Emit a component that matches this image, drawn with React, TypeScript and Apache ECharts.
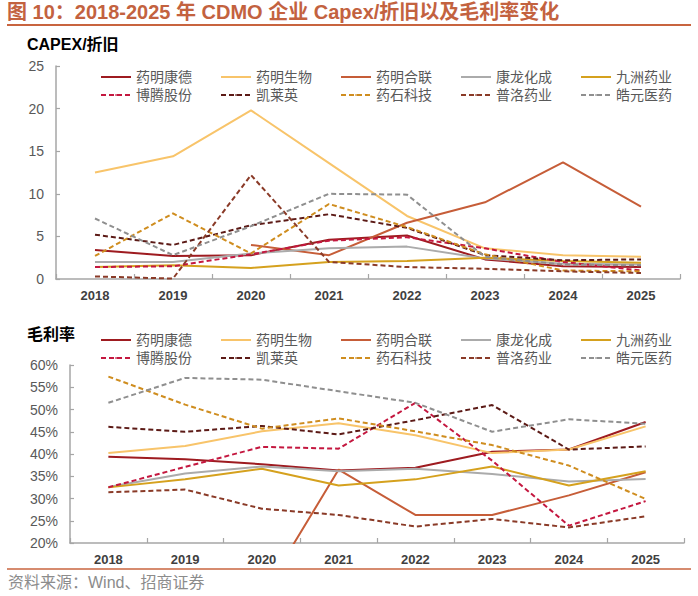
import React, { useEffect, useRef } from "react";
import * as echarts from "echarts";

const years = ["2018", "2019", "2020", "2021", "2022", "2023", "2024", "2025"];
const companies = ["药明康德", "药明生物", "药明合联", "康龙化成", "九洲药业", "博腾股份", "凯莱英", "药石科技", "普洛药业", "皓元医药"];

// CAPEX / 折旧
const capexWuxiAppTec = [3.4, 2.7, 2.8, 4.6, 5.1, 2.3, 1.5, 1.4];
const capexWuxiBio = [12.5, 14.4, 19.8, 13.6, 7.4, 3.6, 2.8, 2.6];
const capexWuxiXdc = [null, null, 4.0, 2.8, 6.6, 9.0, 13.7, 8.5];
const capexPharmaron = [2.0, 2.0, 3.0, 3.6, 3.8, 2.4, 1.8, 1.7];
const capexJiuzhou = [1.4, 1.6, 1.3, 2.0, 2.1, 2.5, 2.1, 1.9];
const capexPorton = [1.4, 1.5, 2.9, 4.5, 4.9, 3.6, 2.0, 1.0];
const capexAsymchem = [5.2, 4.0, 6.3, 7.6, 6.0, 2.8, 2.2, 2.3];
const capexPharmablock = [2.7, 7.7, 3.0, 8.8, 6.1, 2.9, 1.0, 0.9];
const capexApeloa = [0.3, 0.05, 12.2, 2.0, 1.4, 1.2, 0.9, 0.7];
const capexChemexpress = [7.1, 2.8, 6.2, 10.0, 9.9, 2.6, 1.7, 1.6];

// 毛利率 (%)
const marginWuxiAppTec = [39.4, 38.8, 37.7, 36.3, 36.9, 40.5, 41.0, 47.2];
const marginWuxiBio = [40.2, 41.8, 45.1, 46.9, 44.2, 40.2, 41.0, 46.2];
const marginWuxiXdc = [null, null, 8.0, 36.5, 26.3, 26.3, 30.7, 35.9];
const marginPharmaron = [32.6, 35.6, 37.2, 36.1, 36.7, 35.5, 33.8, 34.4];
const marginJiuzhou = [32.5, 34.3, 36.7, 32.9, 34.3, 37.2, 32.9, 36.1];
const marginPorton = [32.5, 37.1, 41.6, 41.2, 51.5, 38.5, 23.9, 29.4];
const marginAsymchem = [46.1, 45.0, 46.3, 44.4, 47.6, 51.0, 41.0, 41.7];
const marginPharmablock = [57.4, 51.1, 45.7, 48.0, 45.1, 42.0, 37.4, 29.9];
const marginApeloa = [31.4, 32.0, 27.7, 26.3, 23.7, 25.4, 23.5, 26.0];
const marginChemexpress = [51.5, 57.1, 56.7, 54.1, 51.5, 45.0, 47.8, 46.8];

const capexTicks = { min: 0, max: 25, interval: 5 };
const marginTicks = { min: 20, max: 60, interval: 5 };

const capexData = [capexWuxiAppTec, capexWuxiBio, capexWuxiXdc, capexPharmaron, capexJiuzhou, capexPorton, capexAsymchem, capexPharmablock, capexApeloa, capexChemexpress];
const marginData = [marginWuxiAppTec, marginWuxiBio, marginWuxiXdc, marginPharmaron, marginJiuzhou, marginPorton, marginAsymchem, marginPharmablock, marginApeloa, marginChemexpress];

const colors = ["#9E1B20", "#F8C46A", "#C65D38", "#ABABAB", "#D5A11E", "#C4173F", "#5C1A16", "#CF8D1F", "#8A3A27", "#8F8F8F"];
const dashed = [false, false, false, false, false, true, true, true, true, true];

const FONT = "'Liberation Sans', 'Noto Sans CJK SC', sans-serif";
const AXIS_GRAY = "#A6A6A6";

function makeXAxis(gridIndex: number) {
  return {
    type: "category",
    gridIndex,
    data: years,
    boundaryGap: true,
    axisLine: { show: true, lineStyle: { color: AXIS_GRAY, width: 1.5 } },
    axisTick: { show: true, inside: true, length: 5, lineStyle: { color: AXIS_GRAY, width: 1.2 } },
    axisLabel: { color: "#404040", fontSize: 13, fontWeight: "bold", margin: 10, fontFamily: FONT },
    splitLine: { show: false },
  };
}

function makeYAxis(gridIndex: number, ticks: { min: number; max: number; interval: number }, fmt: string) {
  return {
    type: "value",
    gridIndex,
    min: ticks.min,
    max: ticks.max,
    interval: ticks.interval,
    axisLine: { show: true, lineStyle: { color: AXIS_GRAY, width: 1.5 } },
    axisTick: { show: true, inside: true, length: 4, lineStyle: { color: AXIS_GRAY, width: 1.2 } },
    axisLabel: { color: "#595959", fontSize: 14, margin: 12, fontFamily: FONT, formatter: fmt },
    splitLine: { show: false },
  };
}

function makeLegend(top: number) {
  return {
    data: companies,
    left: 95,
    top,
    width: 600,
    orient: "horizontal",
    itemWidth: 30,
    itemHeight: 2,
    itemGap: 0,
    selectedMode: false,
    itemStyle: { borderWidth: 0 },
    textStyle: { fontSize: 14, color: "#595959", width: 84, lineHeight: 18, fontFamily: FONT },
  };
}

export default function App() {
  const ref = useRef<HTMLDivElement>(null);
  useEffect(() => {
    if (!ref.current) return;
    const chart = echarts.init(ref.current, undefined, { renderer: "svg" });
    const series: any[] = [];
    companies.forEach((name, i) => {
      const lineStyle = { color: colors[i], width: 2, type: dashed[i] ? [5, 3] : "solid" };
      series.push({
        name,
        type: "line",
        xAxisIndex: 0,
        yAxisIndex: 0,
        data: capexData[i],
        symbol: "none",
        itemStyle: { color: colors[i] },
        lineStyle,
        clip: true,
      });
      series.push({
        name,
        type: "line",
        xAxisIndex: 1,
        yAxisIndex: 1,
        data: marginData[i],
        symbol: "none",
        itemStyle: { color: colors[i] },
        lineStyle,
        clip: true,
      });
    });
    chart.setOption({
      animation: false,
      backgroundColor: "#ffffff",
      textStyle: { fontFamily: FONT },
      grid: [
        { left: 56, top: 66, right: 18, bottom: 317 },
        { left: 70, top: 365, right: 14, bottom: 53 },
      ],
      legend: [makeLegend(63), makeLegend(326)],
      xAxis: [makeXAxis(0), makeXAxis(1)],
      yAxis: [makeYAxis(0, capexTicks, "{value}"), makeYAxis(1, marginTicks, "{value}%")],
      series,
      graphic: [
        {
          type: "text",
          left: 7,
          top: 2,
          style: {
            text: "图 10：2018-2025 年 CDMO 企业 Capex/折旧以及毛利率变化",
            fill: "#C3623F",
            font: "bold 20px " + FONT,
          },
        },
        { type: "line", shape: { x1: 7, y1: 25, x2: 691, y2: 25 }, style: { stroke: "#C8643F", lineWidth: 2 } },
        {
          type: "text",
          left: 27,
          top: 36,
          style: { text: "CAPEX/折旧", fill: "#000000", font: "bold 16px " + FONT },
        },
        {
          type: "text",
          left: 27,
          top: 326,
          style: { text: "毛利率", fill: "#000000", font: "bold 16px " + FONT },
        },
        { type: "line", shape: { x1: 7, y1: 569, x2: 691, y2: 569 }, style: { stroke: "#C8643F", lineWidth: 1.5 } },
        {
          type: "text",
          left: 8,
          top: 574,
          style: { text: "资料来源：Wind、招商证券", fill: "#8C8C8C", font: "16px " + FONT },
        },
      ],
    });
    return () => chart.dispose();
  }, []);
  return <div ref={ref} style={{ position: "fixed", left: 0, top: 0, width: 698, height: 596 }} />;
}
